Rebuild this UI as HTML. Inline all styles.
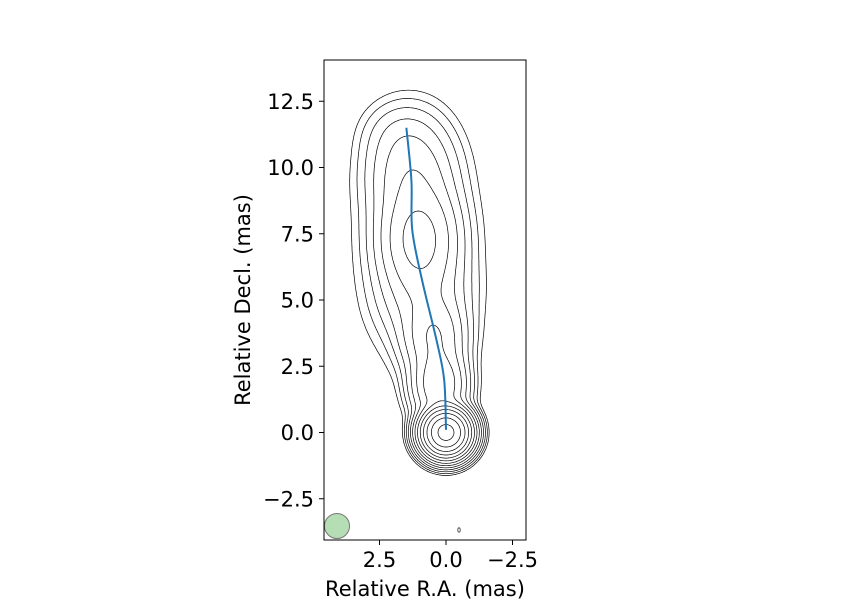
<!DOCTYPE html>
<html><head><meta charset="utf-8"><style>
body{margin:0;background:#fff;}
svg{display:block;font-family:"DejaVu Sans","Liberation Sans",sans-serif;}
</style></head><body>
<svg id="chart" width="850" height="600" viewBox="0 0 850 600">
<defs><clipPath id="clip"><rect x="324" y="60" width="202" height="480"/></clipPath></defs>
<g id="contours" clip-path="url(#clip)"></g>
<path id="ridge" fill="none" stroke="#1f77b4" stroke-width="2" clip-path="url(#clip)"/>
<circle cx="337" cy="526" r="12.5" fill="rgba(44,160,44,0.35)" stroke="#777" stroke-width="1"/>
<ellipse cx="459" cy="530" rx="1.2" ry="2.2" fill="none" stroke="#333" stroke-width="0.8"/>
<rect x="324" y="60" width="202" height="480" fill="none" stroke="#000" stroke-width="1"/>
<g id="axes"></g>
<text x="425" y="596" font-size="21" text-anchor="middle">Relative R.A. (mas)</text>
<text transform="translate(250,300) rotate(-90)" font-size="21" text-anchor="middle">Relative Decl. (mas)</text>
</svg>
<script>
const xTicks=[2.5,0.0,-2.5];
const yTicks=[-2.5,0.0,2.5,5.0,7.5,10.0,12.5];
// Gaussian components: ra, dec, amplitude, sigma-ra, sigma-dec
const compRa =[0.0,0.25,0.45,0.8,1.0,1.3,1.7,1.1];
const compDec=[0.0,1.8,3.6,5.2,7.3,9.8,11.3,7.0];
const compAmp=[5500,120,60,20,80,25,4,4];
const compSx =[0.39,0.5,0.6,0.85,0.75,0.85,0.8,1.3];
const compSy =[0.39,0.7,0.8,1.0,1.1,1.1,0.7,2.6];
const levelExp=[0,1,2,3,4,5,6,7,8,9,10,11,12];
const ridgeRa =[0.0,0.07,0.36,0.9,1.27,1.3,1.49];
const ridgeDec=[0.1,2.0,3.5,5.75,7.65,9.5,11.5];

const NS="http://www.w3.org/2000/svg";
const X=v=>446-v*26.6, Y=v=>432.5-v*26.5;
function field(x,y){let s=0;for(let i=0;i<compRa.length;i++){const dx=(x-compRa[i])/compSx[i],dy=(y-compDec[i])/compSy[i];s+=compAmp[i]*Math.exp(-0.5*(dx*dx+dy*dy));}return s;}
const axes=document.getElementById('axes');
xTicks.forEach(t=>{
 const l=document.createElementNS(NS,'line');l.setAttribute('x1',X(t));l.setAttribute('x2',X(t));l.setAttribute('y1',540);l.setAttribute('y2',545);l.setAttribute('stroke','#000');
 
 
 axes.appendChild(l);
 const tx=document.createElementNS(NS,'text');tx.setAttribute('x',X(t));tx.setAttribute('y',567);tx.setAttribute('font-size','21');tx.setAttribute('text-anchor','middle');tx.textContent=(t<0?'\u2212':'')+Math.abs(t).toFixed(1);
 
 
 axes.appendChild(tx);
});
yTicks.forEach(t=>{
 const l=document.createElementNS(NS,'line');l.setAttribute('x1',319);l.setAttribute('x2',324);l.setAttribute('y1',Y(t));l.setAttribute('y2',Y(t));l.setAttribute('stroke','#000');
 
 
 axes.appendChild(l);
 const tx=document.createElementNS(NS,'text');tx.setAttribute('x',314);tx.setAttribute('y',Y(t)+7.5);tx.setAttribute('font-size','21');tx.setAttribute('text-anchor','end');tx.textContent=(t<0?'\u2212':'')+Math.abs(t).toFixed(1);
 
 
 axes.appendChild(tx);
});
const x0=-3,x1=4.6,y0=-4,y1=14.2,h=0.04;
const nx=Math.round((x1-x0)/h),ny=Math.round((y1-y0)/h);
const grid=[];for(let j=0;j<=ny;j++){const r=[];for(let i=0;i<=nx;i++)r.push(field(x0+i*h,y0+j*h));grid.push(r);}
const cg=document.getElementById('contours');
levelExp.forEach(k=>{
 const L=Math.pow(2,k);let d='';
 for(let j=0;j<ny;j++)for(let i=0;i<nx;i++){
  const a=grid[j][i],b=grid[j][i+1],c=grid[j+1][i+1],e=grid[j+1][i];
  const pts=[];
  const ed=(p,q,xa,ya,xb,yb)=>{if((p>=L)!==(q>=L)){const t=(L-p)/(q-p);pts.push([xa+(xb-xa)*t,ya+(yb-ya)*t]);}};
  const xa=x0+i*h,ya=y0+j*h;
  ed(a,b,xa,ya,xa+h,ya);ed(b,c,xa+h,ya,xa+h,ya+h);ed(c,e,xa+h,ya+h,xa,ya+h);ed(e,a,xa,ya+h,xa,ya);
  for(let m=0;m+1<pts.length;m+=2)d+='M'+X(pts[m][0]).toFixed(1)+' '+Y(pts[m][1]).toFixed(1)+'L'+X(pts[m+1][0]).toFixed(1)+' '+Y(pts[m+1][1]).toFixed(1);
 }
 const p=document.createElementNS(NS,'path');p.setAttribute('d',d);p.setAttribute('fill','none');p.setAttribute('stroke','#000');p.setAttribute('stroke-width','0.7');
 
 
 cg.appendChild(p);
});
const P=ridgeRa.map((r,i)=>[X(r),Y(ridgeDec[i])]);
let rd='M'+P[0][0]+' '+P[0][1];
for(let i=0;i<P.length-1;i++){const p0=P[Math.max(0,i-1)],p1=P[i],p2=P[i+1],p3=P[Math.min(P.length-1,i+2)];
 rd+='C'+(p1[0]+(p2[0]-p0[0])/6)+' '+(p1[1]+(p2[1]-p0[1])/6)+' '+(p2[0]-(p3[0]-p1[0])/6)+' '+(p2[1]-(p3[1]-p1[1])/6)+' '+p2[0]+' '+p2[1];}
document.getElementById('ridge').setAttribute('d',rd);
</script>
</body></html>
